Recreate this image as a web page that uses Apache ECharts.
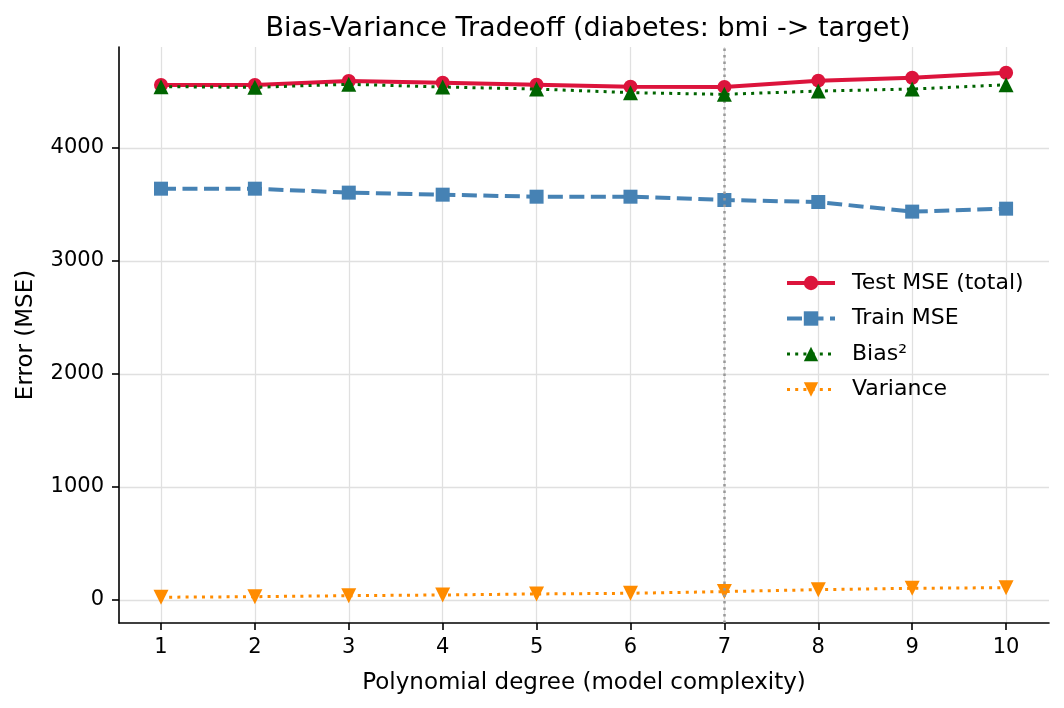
<!DOCTYPE html>
<html>
<head>
<meta charset="utf-8">
<script src="https://cdn.jsdelivr.net/npm/echarts@6/dist/echarts.min.js"></script>
<style>
  html, body { margin: 0; padding: 0; background: #fff; }
  #chart { width: 1064px; height: 708px; }
</style>
</head>
<body>
<div id="chart"></div>
<script>
const degrees = [1, 2, 3, 4, 5, 6, 7, 8, 9, 10];
const testMse = [4558, 4558, 4593, 4577, 4560, 4543, 4541, 4596, 4622, 4666];
const trainMse = [3640, 3640, 3605, 3587, 3569, 3569, 3540, 3522, 3437, 3463];
const bias2 = [4543, 4537, 4564, 4540, 4522, 4490, 4475, 4504, 4522, 4560];
const variance = [24, 29, 38, 44, 53, 59, 74, 91, 103, 109];
const bestDegree = 7;
const yTicks = [0, 1000, 2000, 3000, 4000];

const FONT = "'DejaVu Sans', sans-serif";

const chart = echarts.init(document.getElementById('chart'));

function pairs(vals) {
  return degrees.map((d, i) => [d, vals[i]]);
}

const option = {
  backgroundColor: '#ffffff',
  animation: false,
  textStyle: { fontFamily: FONT, color: '#000' },
  title: {
    text: 'Bias-Variance Tradeoff (diabetes: bmi -> target)',
    left: 583,
    top: 10,
    textAlign: 'center',
    textStyle: { fontFamily: FONT, fontSize: 27, fontWeight: 'normal', color: '#000' }
  },
  grid: { left: 119, right: 15, top: 47, bottom: 85, containLabel: false },
  legend: {
    orient: 'vertical',
    left: 780,
    top: 267,
    itemWidth: 48,
    itemHeight: 18,
    itemGap: 13.5,
    lineStyle: { width: 'inherit' },
    textStyle: { fontFamily: FONT, fontSize: 22, color: '#000', padding: [0, 0, 0, 12] },
    data: ['Test MSE (total)', 'Train MSE', 'Bias²', 'Variance']
  },
  xAxis: {
    type: 'value',
    min: 0.553,
    max: 10.457,
    name: 'Polynomial degree (model complexity)',
    nameLocation: 'middle',
    nameGap: 49,
    nameTextStyle: { fontFamily: FONT, fontSize: 23, color: '#000' },
    axisLine: { onZero: false, lineStyle: { color: '#000', width: 1.6 } },
    axisTick: { show: true, length: 7, lineStyle: { color: '#000', width: 1.6 }, customValues: degrees },
    axisLabel: { fontFamily: FONT, fontSize: 21, color: '#000', margin: 14, customValues: degrees },
    splitLine: { show: true, lineStyle: { color: '#e0e0e0', width: 1.3 } }
  },
  yAxis: {
    type: 'value',
    min: -204,
    max: 4894,
    name: 'Error (MSE)',
    nameLocation: 'middle',
    nameGap: 81,
    nameTextStyle: { fontFamily: FONT, fontSize: 23, color: '#000' },
    axisLine: { show: true, onZero: false, lineStyle: { color: '#000', width: 1.6 } },
    axisTick: { show: true, length: 7, lineStyle: { color: '#000', width: 1.6 }, customValues: yTicks },
    axisLabel: {
      fontFamily: FONT, fontSize: 21, color: '#000', margin: 15, customValues: yTicks,
      formatter: v => String(v)
    },
    splitLine: { show: true, lineStyle: { color: '#e0e0e0', width: 1.3 } }
  },
  series: [
    {
      name: 'Test MSE (total)',
      type: 'line',
      data: pairs(testMse),
      symbol: 'circle',
      symbolSize: 14,
      itemStyle: { color: '#DC143C' },
      lineStyle: { color: '#DC143C', width: 4 },
      z: 5,
      markLine: {
        silent: true,
        symbol: 'none',
        label: { show: false },
        lineStyle: { color: '#999999', width: 2.5, type: [2.5, 4] },
        data: [{ xAxis: bestDegree }]
      }
    },
    {
      name: 'Train MSE',
      type: 'line',
      data: pairs(trainMse),
      symbol: 'rect',
      symbolSize: 14,
      itemStyle: { color: '#4682B4' },
      lineStyle: { color: '#4682B4', width: 4, type: [15, 6.5] },
      z: 4
    },
    {
      name: 'Bias²',
      type: 'line',
      data: pairs(bias2),
      symbol: 'triangle',
      symbolSize: 15,
      itemStyle: { color: '#006400' },
      lineStyle: { color: '#006400', width: 3, type: [3, 5.2] },
      z: 6
    },
    {
      name: 'Variance',
      type: 'line',
      data: pairs(variance),
      symbol: 'triangle',
      symbolRotate: 180,
      symbolSize: 15,
      itemStyle: { color: '#FF8C00' },
      lineStyle: { color: '#FF8C00', width: 3, type: [3, 5.2] },
      z: 4
    }
  ]
};

chart.setOption(option);
</script>
</body>
</html>
